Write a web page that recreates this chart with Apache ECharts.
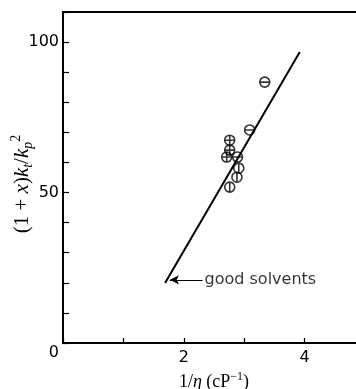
<!DOCTYPE html>
<html><head><meta charset="utf-8">
<script src="https://cdn.jsdelivr.net/npm/echarts@6/dist/echarts.min.js"></script>
<style>html,body{margin:0;padding:0;background:#fff}#c{width:356px;height:389px}</style>
</head><body><div id="c"></div>
<script>
// Data
const plusPts = [[2.76, 67.4], [2.76, 64.1], [2.71, 61.8]];   // circle with cross
const hbarPts = [[3.34, 86.7], [3.09, 70.8], [2.89, 61.8]];   // circle with horizontal bar
const vbarPts = [[2.91, 58.1], [2.88, 55.1], [2.76, 51.8]];   // circle with vertical bar
const fitLine = [[1.69, 19.9], [3.92, 96.7]];
const arrowFrom = [2.31, 21];
const arrowTo = [1.77, 21];
const annotationText = 'good solvents';
const xLabels = [2, 4];
const yLabels = [0, 50, 100];

const circ = 'M0,10 A10,10 0 1,1 20,10 A10,10 0 1,1 0,10 Z ';
const symPlus = 'path://' + circ + 'M0,10 L20,10 M10,0 L10,20';
const symH = 'path://' + circ + 'M0,10 L20,10';
const symV = 'path://' + circ + 'M10,0 L10,20';

const ptStyle = {color: 'rgba(0,0,0,0)', borderColor: '#000', borderWidth: 1.6};
const sansFont = 'DejaVu Sans';
const serif = 'Liberation Serif';

const chart = echarts.init(document.getElementById('c'), null, {renderer: 'canvas'});
chart.setOption({
  animation: false,
  backgroundColor: '#fff',
  grid: {left: 63, top: 12, right: -9, bottom: 46, show: true, borderColor: '#000', borderWidth: 2,
    containLabel: false, outerBoundsMode: 'none'},
  graphic: [{
    type: 'text', x: 22, y: 184, rotation: Math.PI / 2, z: 10,
    style: {
      text: '{n|(1 + }{i|x}{n|)}{i|k}{b|t}{n|/}{i|k}{b|p}{s|2}',
      align: 'center', verticalAlign: 'middle',
      rich: {
        n: {fontFamily: serif, fontSize: 21, fill: '#000', lineHeight: 26, verticalAlign: 'middle'},
        i: {fontFamily: serif, fontStyle: 'italic', fontSize: 21, fill: '#000', lineHeight: 26, verticalAlign: 'middle'},
        b: {fontFamily: serif, fontStyle: 'italic', fontSize: 14, fill: '#000', lineHeight: 14, verticalAlign: 'bottom'},
        s: {fontFamily: serif, fontSize: 14, fill: '#000', lineHeight: 14, verticalAlign: 'top'}
      }
    }
  }],
  xAxis: {
    type: 'value', min: 0, max: 5, interval: 1,
    axisLine: {lineStyle: {color: '#000', width: 2}},
    axisTick: {inside: true, length: 5, lineStyle: {color: '#000', width: 1.2}},
    splitLine: {show: false},
    axisLabel: {color: '#000', fontFamily: sansFont, fontSize: 16, margin: 7,
      formatter: v => xLabels.includes(v) ? String(v) : ''},
    name: '{n|1/}{i|η}{n| (cP}{s|−1}{n|)}',
    nameLocation: 'middle', nameGap: 18,
    nameTextStyle: {
      rich: {
        n: {fontFamily: serif, fontSize: 18, color: '#000', lineHeight: 22, verticalAlign: 'middle'},
        i: {fontFamily: serif, fontStyle: 'italic', fontSize: 18, color: '#000', lineHeight: 22, verticalAlign: 'middle'},
        s: {fontFamily: serif, fontSize: 12, color: '#000', lineHeight: 12, verticalAlign: 'top'}
      }
    }
  },
  yAxis: {
    type: 'value', min: 0, max: 110, interval: 10,
    axisLine: {lineStyle: {color: '#000', width: 2}},
    axisTick: {inside: true, length: 6, lineStyle: {color: '#000', width: 1.2}},
    splitLine: {show: false},
    axisLabel: {color: '#000', fontFamily: sansFont, fontSize: 16, margin: 4,
      formatter: v => yLabels.includes(v) ? (v === 0 ? '{z|0}' : String(v)) : '',
      rich: {z: {fontFamily: sansFont, fontSize: 16, color: '#000', padding: [20, 0, 0, 0]}}}
  },
  series: [
    {type: 'line', data: fitLine, showSymbol: false, lineStyle: {color: '#000', width: 2}, z: 1,
      markLine: {
        silent: true, symbol: ['none', 'arrow'], symbolSize: [7, 9],
        lineStyle: {color: '#000', width: 1.2, type: 'solid'},
        label: {show: false},
        data: [[{coord: arrowFrom}, {coord: arrowTo}]]
      }
    },
    {type: 'scatter', data: [arrowFrom], symbolSize: 0,
      label: {show: true, position: 'right', distance: 2, formatter: annotationText,
        color: '#000', fontFamily: sansFont, fontSize: 16}},
    {type: 'scatter', data: plusPts, symbol: symPlus, symbolSize: 10, itemStyle: ptStyle, z: 3},
    {type: 'scatter', data: hbarPts, symbol: symH, symbolSize: 10, itemStyle: ptStyle, z: 3},
    {type: 'scatter', data: vbarPts, symbol: symV, symbolSize: 10, itemStyle: ptStyle, z: 3}
  ]
});
</script></body></html>
